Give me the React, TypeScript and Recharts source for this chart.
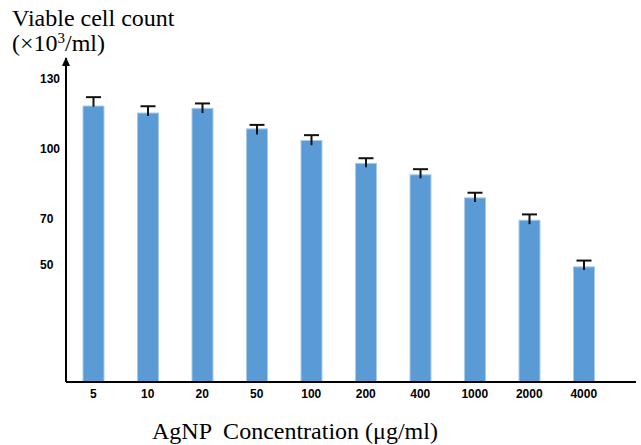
import React from "react";
import { BarChart, Bar, XAxis, YAxis } from "recharts";

const concentrations = ["5", "10", "20", "50", "100", "200", "400", "1000", "2000", "4000"];
const viableCounts = [118.4, 115.4, 117.4, 108.6, 103.6, 93.8, 88.9, 79.0, 69.4, 49.4];
const errorUp = [3.8, 2.9, 2.1, 1.7, 2.3, 2.2, 2.4, 2.2, 2.5, 2.7];
const errorDown = [0.3, 1.3, 2.0, 2.4, 2.0, 1.7, 1.5, 1.8, 1.7, 1.4];
const yTicks = [50, 70, 100, 130];

const data = concentrations.map((c, i) => ({
  conc: c,
  count: viableCounts[i],
  up: errorUp[i],
  down: errorDown[i],
}));

const tickFont = "'Liberation Sans', Arial, sans-serif";
const serif = "'Liberation Serif', 'Times New Roman', serif";

const XTick = (props: any) => {
  const { x, y, payload } = props;
  return (
    <text x={x} y={y + 8} textAnchor="middle" fontFamily={tickFont} fontWeight="bold" fontSize={12} fill="#000">
      {payload.value}
    </text>
  );
};

const YTick = (props: any) => {
  const { y, payload } = props;
  return (
    <text x={40} y={y + 4} textAnchor="start" fontFamily={tickFont} fontWeight="bold" fontSize={12} fill="#000">
      {payload.value}
    </text>
  );
};

const BarWithError = (props: any) => {
  const { x, y, width, height, payload } = props;
  const ppu = height / payload.count;
  const cx = x + width / 2;
  const topY = y - payload.up * ppu;
  const botY = y + payload.down * ppu;
  return (
    <g>
      <rect x={x} y={y} width={width} height={height} fill="#5b9bd5" stroke="#a9cbea" strokeWidth={1} />
      <line x1={cx} x2={cx} y1={topY} y2={botY} stroke="#111" strokeWidth={2} />
      <line x1={cx - 7.5} x2={cx + 7.5} y1={topY} y2={topY} stroke="#111" strokeWidth={2} />
    </g>
  );
};

export default function App() {
  return (
    <div style={{ position: "absolute", left: 0, top: 0, width: 641, height: 445, background: "#fff" }}>
      <svg width={0} height={0} style={{ position: "absolute" }}>
        <defs>
          <marker id="yArrow" markerWidth={8} markerHeight={10} refX={4} refY={1} orient="0" markerUnits="userSpaceOnUse">
            <path d="M0,9 L4,0 L8,9 Z" fill="#000" />
          </marker>
        </defs>
      </svg>
      <BarChart
        width={641}
        height={445}
        data={data}
        margin={{ top: 58, right: 5, bottom: 33, left: 0 }}
      >
        <XAxis
          dataKey="conc"
          height={30}
          tickLine={false}
          axisLine={{ stroke: "#000", strokeWidth: 2 }}
          tick={<XTick />}
          padding={{ left: 0, right: 25 }}
          interval={0}
        />
        <YAxis
          width={66}
          domain={[0, 139]}
          ticks={yTicks}
          tickLine={false}
          axisLine={{ stroke: "#000", strokeWidth: 2, markerStart: "url(#yArrow)" }}
          tick={<YTick />}
          interval={0}
        />
        <Bar dataKey="count" barSize={21} isAnimationActive={false} shape={<BarWithError />} />
      </BarChart>
      <svg width={641} height={445} style={{ position: "absolute", left: 0, top: 0, pointerEvents: "none" }}>
        <text x={12} y={26} fontFamily={serif} fontSize={24} fill="#000">Viable cell count</text>
        <text x={12} y={51} fontFamily={serif} fontSize={24} fill="#000">
          (×10<tspan fontSize={15} dy={-8}>3</tspan><tspan dy={8}>/ml)</tspan>
        </text>
        <text x={152} y={439} fontFamily={serif} fontSize={24} fill="#000" style={{ whiteSpace: "pre" }} xmlSpace="preserve">
          AgNP  Concentration (μg/ml)
        </text>
      </svg>
    </div>
  );
}
